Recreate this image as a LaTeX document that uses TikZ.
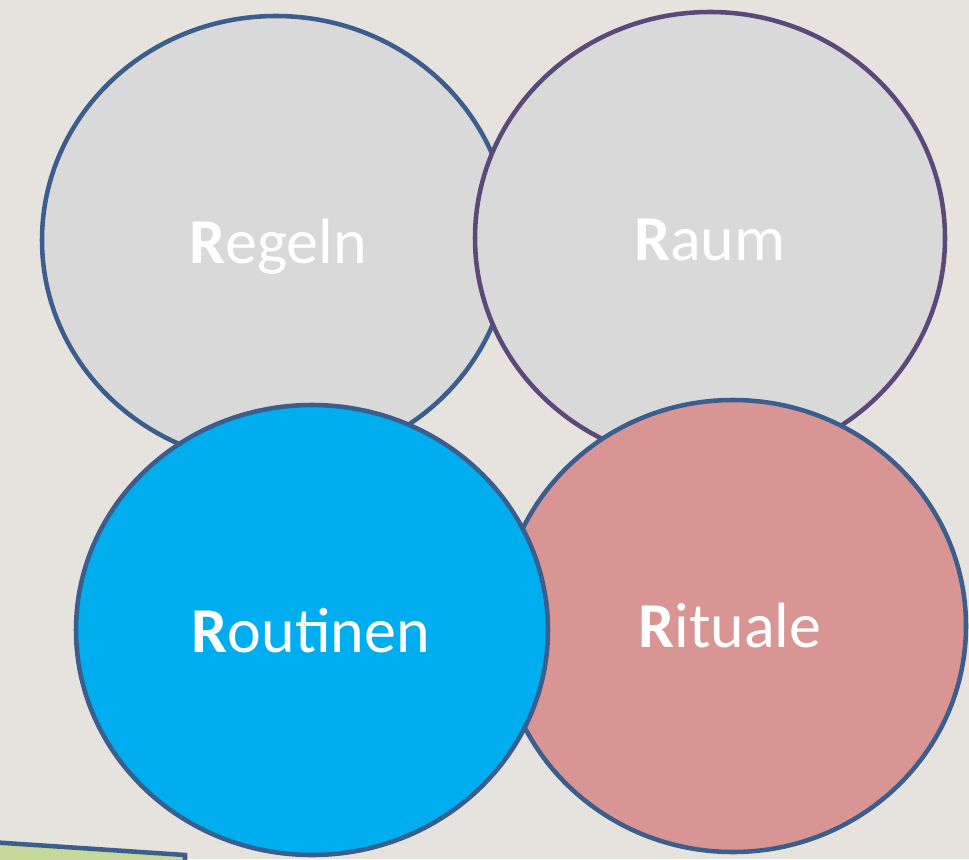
\documentclass[tikz,border=0pt]{standalone}
\usepackage{fontspec}
\setmainfont{Carlito}
\definecolor{bgpaper}{RGB}{230,227,223}
\definecolor{circgray}{RGB}{217,217,217}
\definecolor{circblue}{RGB}{0,174,239}
\definecolor{circrose}{RGB}{217,149,148}
\definecolor{rimblue}{RGB}{59,94,140}
\definecolor{rimviolet}{RGB}{90,74,122}
\definecolor{leafgreen}{RGB}{197,216,154}
\tikzset{
  rword/.style={text=white,font=\fontsize{48}{56}\selectfont,inner sep=0.75pt,anchor=base},
  rim/.style={line width=3.4pt}
}
\begin{document}
\begin{tikzpicture}[x=0.75pt,y=0.75pt,yscale=-1,xscale=1]
%set diagram left start at 0, and has height of 859
\path[use as bounding box, fill=bgpaper] (0,0) rectangle (969,859);
\clip (0,0) rectangle (969,859);

%Shape: Polygon (green sheet, bottom left)
\draw [rim, draw=rimblue, fill=leafgreen] (-10,842) -- (185,855) -- (185,875) -- (-10,875) -- cycle ;

%Shape: Ellipse Regeln
\draw [rim, draw=rimblue, fill=circgray] (276,240) ellipse (234 and 224) ;
%Shape: Ellipse Raum
\draw [rim, draw=rimviolet, fill=circgray] (710,238) ellipse (235 and 226) ;
%Shape: Ellipse Rituale
\draw [rim, draw=rimblue, fill=circrose] (733,626) ellipse (233 and 226) ;
%Shape: Ellipse Routinen
\draw [rim, draw=rimblue, fill=circblue] (312,630) ellipse (236 and 225) ;

% Text Node
\node [rword] (regeln) at (278,263) {\textbf{R}egeln};
% Text Node
\node [rword] (raum) at (710,260) {\textbf{R}aum};
% Text Node
\node [rword] (routinen) at (311,652) {\textbf{R}outinen};
% Text Node
\node [rword] (rituale) at (730,647) {\textbf{R}ituale};

\end{tikzpicture}
\end{document}
